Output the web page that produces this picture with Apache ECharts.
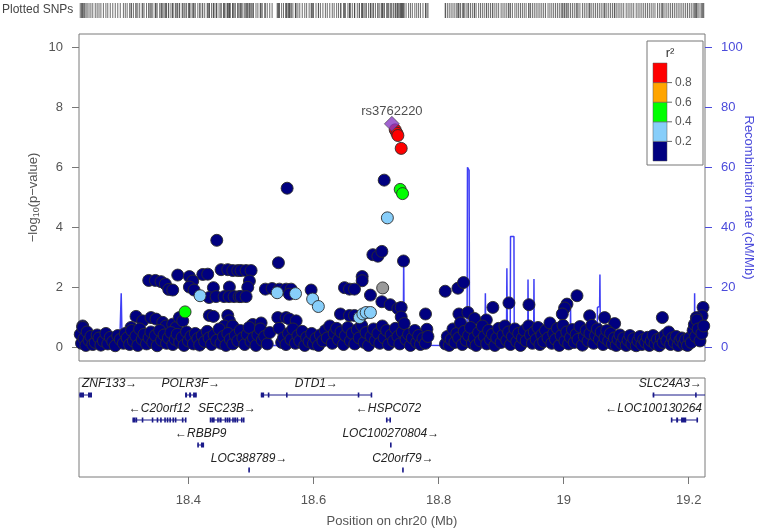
<!DOCTYPE html>
<html>
<head>
<meta charset="utf-8">
<script src="https://cdn.jsdelivr.net/npm/echarts@6/dist/echarts.min.js"></script>
<style>
  html, body { margin: 0; padding: 0; background: #fff; }
  #chart { width: 762px; height: 531px; }
</style>
</head>
<body>
<div id="chart"></div>
<script>
// ---- data (Mb, -log10 p) ----
const leadSnp = [[18.7253, 7.45]];
const leadName = 'rs3762220';

const ldRed = [[18.7306, 7.25], [18.7333, 7.14], [18.7349, 7.06], [18.7402, 6.63]];
const ldGreen = [[18.7386, 5.26], [18.7424, 5.12], [18.3946, 1.17]];
const ldLightBlue = [
  [18.7181, 4.31], [18.4186, 1.71], [18.5419, 1.81], [18.5712, 1.78], [18.5986, 1.60],
  [18.6077, 1.35], [18.6735, 0.98], [18.6789, 1.10], [18.6842, 1.15], [18.6910, 1.15]
];
const ldGrey = [[18.7106, 1.97]];

const ldNavy = [
  [18.4453, 3.56], [18.5578, 5.30], [18.7130, 5.57], [18.5439, 2.81], [18.6949, 3.08], [18.7029, 3.03],
  [18.7093, 3.19], [18.7439, 2.87], [18.6778, 2.35], [18.6778, 2.21],
  [18.3365, 2.22], [18.3471, 2.22], [18.3562, 2.18], [18.3631, 2.10], [18.3685, 1.92], [18.3749, 1.90],
  [18.3829, 2.40], [18.4015, 2.35], [18.4069, 2.20], [18.4229, 2.42], [18.4309, 2.43], [18.4015, 2.00], [18.4090, 1.90],
  [18.4522, 2.58], [18.4629, 2.58], [18.4709, 2.55], [18.4789, 2.55], [18.4399, 1.98], [18.4655, 2.00],
  [18.4330, 1.65], [18.4442, 1.68], [18.4570, 1.68], [18.4650, 1.68], [18.4730, 1.68], [18.4810, 1.68],
  [18.4842, 2.55], [18.4922, 2.55], [18.5002, 2.55], [18.4975, 2.20], [18.4949, 1.99], [18.4842, 1.68], [18.4922, 1.68],
  [18.5230, 1.93], [18.5338, 1.95], [18.5455, 1.93], [18.5562, 1.93], [18.5642, 1.93], [18.5615, 1.76],
  [18.5962, 1.90], [18.6495, 1.98], [18.6575, 1.93], [18.6655, 1.93], [18.6910, 1.73],
  [18.7093, 1.51], [18.7226, 1.41], [18.7349, 1.28],
  [18.6431, 1.10], [18.6575, 1.05], [18.6655, 1.05],
  [18.5429, 0.98], [18.5562, 0.98], [18.5615, 0.93], [18.5722, 0.87],
  [18.8106, 1.86], [18.8309, 1.96], [18.8399, 2.15], [18.8868, 1.32], [18.9125, 1.47], [18.9445, 1.41],
  [18.7791, 1.10], [18.7813, 0.59], [18.7402, 1.32], [18.7402, 1.00],
  [18.8325, 1.10], [18.8469, 1.15], [18.8575, 0.95], [18.8763, 0.90],
  [19.0213, 1.71], [19.0053, 1.43], [19.0015, 1.30], [18.9978, 1.10], [19.1578, 0.98], [19.2229, 1.32],
  [19.2213, 1.04], [19.2122, 0.98], [19.0415, 1.04], [19.0655, 0.98], [19.0815, 0.78],
  [18.3162, 1.02], [18.3082, 0.65], [18.3269, 0.87], [18.3402, 0.98], [18.3482, 0.93], [18.3589, 0.82],
  [18.3642, 0.70], [18.3749, 0.76], [18.3802, 0.65], [18.3855, 0.98], [18.3909, 0.87], [18.4335, 1.05],
  [18.4399, 1.02], [18.4629, 1.05], [18.4655, 0.87], [18.4574, 0.70], [18.4709, 0.70], [18.2309, 0.70],
  [18.2334, 0.54], [18.5028, 0.75], [18.5162, 0.80], [18.5150, 0.55],
  // dense band near zero
  [18.227, 0.42], [18.229, 0.12], [18.231, 0.65], [18.233, 0.28], [18.236, 0.05], [18.238, 0.50], [18.241, 0.22],
  [18.244, 0.35], [18.247, 0.08], [18.251, 0.15], [18.254, 0.40], [18.257, 0.30], [18.260, 0.06], [18.264, 0.20],
  [18.268, 0.45], [18.271, 0.10], [18.275, 0.32], [18.279, 0.18], [18.283, 0.04], [18.287, 0.38], [18.291, 0.25],
  [18.296, 0.12], [18.299, 0.45],
  [18.302, 0.30], [18.306, 0.08], [18.309, 0.55], [18.312, 0.20], [18.316, 0.36], [18.319, 0.05], [18.322, 0.60],
  [18.326, 0.25], [18.329, 0.42], [18.333, 0.10], [18.337, 0.30], [18.340, 0.50], [18.343, 0.15], [18.347, 0.38],
  [18.350, 0.04], [18.354, 0.55], [18.357, 0.22], [18.361, 0.40], [18.365, 0.12], [18.368, 0.30], [18.372, 0.48],
  [18.375, 0.08], [18.379, 0.25], [18.382, 0.42], [18.386, 0.16], [18.390, 0.32], [18.393, 0.05], [18.397, 0.50],
  [18.400, 0.20], [18.404, 0.35], [18.408, 0.10], [18.411, 0.45], [18.415, 0.28], [18.418, 0.06], [18.422, 0.38],
  [18.426, 0.18], [18.430, 0.52], [18.433, 0.30], [18.437, 0.08], [18.441, 0.40], [18.445, 0.22], [18.449, 0.60],
  [18.452, 0.12], [18.456, 0.35], [18.460, 0.05], [18.463, 0.45], [18.467, 0.25], [18.471, 0.10], [18.475, 0.38],
  [18.479, 0.20], [18.483, 0.55], [18.487, 0.30], [18.490, 0.08], [18.494, 0.42], [18.497, 0.65], [18.500, 0.18],
  [18.504, 0.30], [18.508, 0.05], [18.511, 0.40], [18.515, 0.60], [18.518, 0.22], [18.522, 0.35], [18.526, 0.10],
  [18.530, 0.48], [18.545, 0.62], [18.549, 0.15],
  [18.552, 0.30], [18.556, 0.08], [18.560, 0.45], [18.564, 0.25], [18.567, 0.60], [18.571, 0.12], [18.575, 0.38],
  [18.578, 0.20], [18.582, 0.52], [18.586, 0.05], [18.589, 0.32], [18.593, 0.18], [18.597, 0.45], [18.600, 0.10],
  [18.604, 0.28], [18.608, 0.05], [18.611, 0.40], [18.615, 0.20], [18.619, 0.55], [18.622, 0.30], [18.626, 0.70],
  [18.630, 0.12], [18.633, 0.45], [18.637, 0.62], [18.640, 0.25], [18.644, 0.50], [18.648, 0.08], [18.651, 0.38],
  [18.655, 0.65], [18.659, 0.20], [18.662, 0.45], [18.666, 0.10], [18.670, 0.58], [18.673, 0.30], [18.677, 0.72],
  [18.681, 0.15], [18.684, 0.48], [18.688, 0.05], [18.692, 0.35], [18.696, 0.60], [18.699, 0.22],
  [18.703, 0.45], [18.706, 0.12], [18.710, 0.70], [18.713, 0.30], [18.717, 0.55], [18.720, 0.08], [18.724, 0.40],
  [18.728, 0.20], [18.731, 0.62], [18.735, 0.35], [18.738, 0.10], [18.742, 0.50], [18.745, 0.78], [18.748, 0.25],
  [18.752, 0.42], [18.755, 0.05], [18.758, 0.30], [18.762, 0.55], [18.765, 0.15], [18.768, 0.38], [18.771, 0.08],
  [18.775, 0.28], [18.779, 0.12], [18.783, 0.35],
  [18.811, 0.10], [18.814, 0.35], [18.817, 0.05], [18.820, 0.25], [18.823, 0.60], [18.826, 0.15], [18.829, 0.45],
  [18.832, 0.30], [18.835, 0.80], [18.838, 0.08], [18.841, 0.52], [18.844, 0.22], [18.848, 0.38], [18.851, 0.65],
  [18.854, 0.12], [18.857, 0.30], [18.860, 0.05], [18.864, 0.48], [18.867, 0.20], [18.870, 0.70], [18.873, 0.35],
  [18.877, 0.10], [18.880, 0.55], [18.883, 0.25], [18.886, 0.42], [18.890, 0.05], [18.893, 0.30], [18.896, 0.62],
  [18.900, 0.15], [18.903, 0.40], [18.906, 0.70], [18.909, 0.22], [18.912, 0.50], [18.915, 0.08], [18.918, 0.35],
  [18.922, 0.60], [18.925, 0.18], [18.928, 0.45], [18.931, 0.05], [18.934, 0.30], [18.937, 0.55], [18.940, 0.20],
  [18.944, 0.70], [18.947, 0.40], [18.950, 0.12],
  [18.953, 0.50], [18.956, 0.25], [18.959, 0.65], [18.962, 0.08], [18.965, 0.40], [18.968, 0.18], [18.971, 0.55],
  [18.975, 0.30], [18.978, 0.80], [18.981, 0.12], [18.984, 0.45], [18.987, 0.25], [18.990, 0.62], [18.993, 0.05],
  [18.996, 0.38], [18.999, 0.72], [19.002, 0.20], [19.005, 0.50], [19.008, 0.10], [19.011, 0.32], [19.014, 0.58],
  [19.017, 0.15], [19.020, 0.42], [19.023, 0.25], [19.026, 0.68], [19.030, 0.06], [19.033, 0.35], [19.036, 0.55],
  [19.039, 0.20], [19.042, 0.45], [19.045, 0.72], [19.048, 0.12], [19.051, 0.38], [19.054, 0.60], [19.057, 0.25],
  [19.060, 0.50], [19.063, 0.08], [19.066, 0.30], [19.069, 0.55],
  [19.072, 0.20], [19.075, 0.45], [19.078, 0.10], [19.081, 0.30], [19.084, 0.05], [19.087, 0.25], [19.090, 0.40],
  [19.093, 0.12], [19.096, 0.30], [19.100, 0.05], [19.103, 0.22], [19.106, 0.38], [19.109, 0.10], [19.112, 0.28],
  [19.116, 0.04], [19.119, 0.20], [19.122, 0.35], [19.125, 0.08], [19.128, 0.25], [19.131, 0.15], [19.134, 0.32],
  [19.137, 0.05], [19.140, 0.20], [19.143, 0.38], [19.146, 0.10], [19.150, 0.25], [19.153, 0.04], [19.156, 0.30],
  [19.159, 0.15], [19.162, 0.40], [19.165, 0.22], [19.168, 0.50], [19.171, 0.08], [19.174, 0.30], [19.177, 0.15],
  [19.180, 0.35], [19.183, 0.05], [19.186, 0.22], [19.189, 0.30], [19.192, 0.10], [19.195, 0.25], [19.198, 0.05],
  [19.201, 0.30], [19.204, 0.15], [19.207, 0.55], [19.209, 0.75], [19.211, 0.35], [19.213, 0.90], [19.215, 0.60],
  [19.218, 0.20], [19.221, 0.45], [19.224, 0.70]
];

// recombination rate (cM/Mb)
const recombPos = [
  18.225, 18.290, 18.2925, 18.294, 18.450, 18.600, 18.7435, 18.7442, 18.745,
  18.8455, 18.8462, 18.8488, 18.8495, 18.874, 18.8748, 18.8756, 18.9085, 18.9092, 18.9100,
  18.9145, 18.9150, 18.9205, 18.9210, 18.9425, 18.9430, 18.9436, 18.9520, 18.9525, 18.9531,
  19.0105, 19.0110, 19.0116, 19.0535, 19.0540, 19.0575, 19.0580, 19.0587,
  19.1690, 19.1694, 19.1699, 19.2090, 19.2094, 19.2099, 19.226
];
const recombRate = [
  0.3, 0.5, 17.9, 0.5, 0.4, 0.6, 0.5, 30.5, 0.6,
  0.5, 60.0, 59.0, 0.8, 0.6, 17.9, 0.6, 0.8, 26.3, 0.9,
  0.9, 36.9, 36.9, 0.9, 0.8, 22.5, 0.8, 0.8, 22.7, 0.8,
  0.8, 13.2, 0.8, 1.0, 13.2, 13.5, 24.2, 1.0,
  0.6, 6.5, 0.6, 0.8, 17.9, 0.8, 0.5
];

// genes
const geneNames  = ['ZNF133', 'POLR3F', 'DTD1', 'SLC24A3', 'C20orf12', 'SEC23B', 'HSPC072', 'LOC100130264',
                    'RBBP9', 'LOC100270804', 'LOC388789', 'C20orf79'];
const geneStart  = [18.215, 18.3946, 18.5157, 19.1423, 18.3109, 18.4346, 18.7162, 19.1717, 18.4143, 18.7230, 18.4964, 18.7424];
const geneEnd    = [18.2458, 18.4133, 18.6933, 19.400, 18.3962, 18.4890, 18.7237, 19.2149, 18.4250, 18.7242, 18.4976, 18.7436];
const geneRow    = [1, 1, 1, 1, 2, 2, 2, 2, 3, 3, 4, 4];
const geneStrand = [1, 1, 1, 1, -1, 1, -1, -1, -1, 1, 1, 1];
const geneExons  = [
  [[18.2256, 18.2330], [18.2394, 18.2458]],
  [[18.3946, 18.3978], [18.4010, 18.4042], [18.4074, 18.4133]],
  [[18.5157, 18.5210], [18.5274, 18.5290], [18.5566, 18.5580], [18.6713, 18.6727], [18.6920, 18.6933]],
  [[19.1423, 19.1450], [19.2107, 19.2122]],
  [[18.3109, 18.3125], [18.3135, 18.3148], [18.3160, 18.3175], [18.3260, 18.3272], [18.3420, 18.3432],
   [18.3500, 18.3510], [18.3555, 18.3565], [18.3620, 18.3632], [18.3660, 18.3672], [18.3700, 18.3715],
   [18.3750, 18.3765], [18.3790, 18.3800], [18.3900, 18.3915], [18.3950, 18.3962]],
  [[18.4346, 18.4360], [18.4372, 18.4390], [18.4400, 18.4412], [18.4460, 18.4485], [18.4495, 18.4530],
   [18.4580, 18.4605], [18.4612, 18.4640], [18.4650, 18.4668], [18.4700, 18.4725], [18.4732, 18.4760],
   [18.4770, 18.4795], [18.4845, 18.4860], [18.4878, 18.4890]],
  [[18.7162, 18.7180], [18.7215, 18.7237]],
  [[19.1717, 19.1736], [19.1799, 19.1830], [19.1877, 19.1960], [19.2123, 19.2149]],
  [[18.4143, 18.4165], [18.4200, 18.4250]],
  [[18.7230, 18.7242]],
  [[18.4964, 18.4976]],
  [[18.7424, 18.7436]]
];

// axes
const xMin = 18.225, xMax = 19.226;
const posTicks = [18.4, 18.6, 18.8, 19, 19.2];
const logpTicks = [0, 2, 4, 6, 8, 10];
const recombTicks = [0, 20, 40, 60, 80, 100];

// r^2 legend
const ldColors = ['#000080', '#87CEFA', '#00FF00', '#FFA500', '#FF0000'];
const ldBreaks = ['0.2', '0.4', '0.6', '0.8'];

const greyText = '#555';
const blueText = '#4b4bdb';
const geneColor = '#1a1a8a';
const geneFont = 'italic 12px "Liberation Sans", Arial, sans-serif';

const allPos = [].concat(ldNavy, ldLightBlue, ldGreen, ldRed, ldGrey, leadSnp).map(d => [d[0], 0]);

const measure = document.createElement('canvas').getContext('2d');
measure.font = geneFont;

function renderGene(params, api) {
  const i = params.dataIndex;
  const cs = params.coordSys;
  const row = geneRow[i];
  const y = api.coord([geneStart[i], row])[1];
  const x0 = api.coord([geneStart[i], row])[0];
  const x1 = api.coord([geneEnd[i], row])[0];
  const left = cs.x, right = cs.x + cs.width;
  const children = [{
    type: 'line',
    shape: { x1: Math.max(x0, left), y1: y, x2: Math.min(x1, right), y2: y },
    style: { stroke: geneColor, lineWidth: 1 }
  }];
  geneExons[i].forEach(e => {
    let a = Math.max(api.coord([e[0], row])[0], left);
    let b = Math.min(api.coord([e[1], row])[0], right);
    if (b - a < 1.6) { const m = (a + b) / 2; a = m - 0.8; b = m + 0.8; }
    children.push({ type: 'rect', shape: { x: a, y: y - 2.5, width: b - a, height: 5 }, style: { fill: geneColor } });
  });
  const text = geneStrand[i] > 0 ? geneNames[i] + '\u2192' : '\u2190' + geneNames[i];
  const w = measure.measureText(text).width;
  let cx = (Math.max(x0, left) + Math.min(x1, right)) / 2;
  cx = Math.max(left + 3 + w / 2, Math.min(right - 3 - w / 2, cx));
  children.push({
    type: 'text',
    style: { text: text, x: cx, y: y - 5, font: geneFont, fill: '#222', align: 'center', verticalAlign: 'bottom' }
  });
  return { type: 'group', children: children };
}

function ldSeries(data, color) {
  return {
    type: 'scatter', xAxisIndex: 1, yAxisIndex: 1, data: data, symbolSize: 12,
    itemStyle: { color: color, borderColor: '#2b2b2b', borderWidth: 0.9, opacity: 1 },
    emphasis: { disabled: true }, silent: true, z: 3
  };
}

// same position scale for all three panels; only the bottom one shows ticks
function posAxis(grid, visible) {
  return {
    gridIndex: grid, type: 'value', min: xMin, max: xMax,
    axisLine: { show: false },
    axisTick: { show: visible, length: 7, customValues: posTicks, lineStyle: { color: '#777' } },
    axisLabel: { show: visible, customValues: posTicks, margin: 17, color: greyText, fontSize: 13 },
    splitLine: { show: false }
  };
}

// legend drawn as graphic
const legendTop = 63, legendStep = 19.6;
const legendGraphic = [
  { type: 'rect', shape: { x: 647, y: 41, width: 56, height: 124 }, style: { fill: '#fff', stroke: '#777', lineWidth: 1 }, z: 10 },
  { type: 'text', style: { text: 'r\u00b2', x: 670, y: 53, font: '13px "Liberation Sans", Arial, sans-serif', fill: '#333', align: 'center', verticalAlign: 'middle' }, z: 11 }
];
ldColors.forEach((c, k) => {
  legendGraphic.push({
    type: 'rect', z: 11,
    shape: { x: 653, y: legendTop + (ldColors.length - 1 - k) * legendStep, width: 14, height: legendStep },
    style: { fill: c, stroke: '#555', lineWidth: 0.5 }
  });
});
ldBreaks.forEach((t, k) => {
  const yy = legendTop + (ldColors.length - 1 - k) * legendStep;
  legendGraphic.push({ type: 'line', z: 11, shape: { x1: 667, y1: yy, x2: 672, y2: yy }, style: { stroke: '#666', lineWidth: 1 } });
  legendGraphic.push({ type: 'text', z: 11, style: { text: t, x: 675, y: yy, font: '12px "Liberation Sans", Arial, sans-serif', fill: greyText, align: 'left', verticalAlign: 'middle' } });
});

const chart = echarts.init(document.getElementById('chart'), null, { renderer: 'canvas' });

const bottomAxis = posAxis(2, true);
bottomAxis.name = 'Position on chr20 (Mb)';
bottomAxis.nameLocation = 'middle';
bottomAxis.nameGap = 38;
bottomAxis.nameTextStyle = { color: greyText, fontSize: 13 };

// fixed grid boxes (no automatic shrinking for labels)
const gridBase = { left: 79, right: 57, containLabel: false, outerBoundsMode: 'none' };

const option = {
  animation: false,
  textStyle: { fontFamily: '"Liberation Sans", Arial, sans-serif' },
  graphic: [
    { type: 'text', style: { text: 'Plotted SNPs', x: 2, y: 10, font: '12px "Liberation Sans", Arial, sans-serif', fill: '#444', align: 'left', verticalAlign: 'middle' } }
  ].concat(legendGraphic),
  grid: [
    Object.assign({}, gridBase, { top: 3, height: 15 }),
    Object.assign({}, gridBase, { top: 34, height: 327, show: true, borderColor: '#7a7a7a', borderWidth: 1 }),
    Object.assign({}, gridBase, { top: 378, height: 99, show: true, borderColor: '#7a7a7a', borderWidth: 1 })
  ],
  xAxis: [posAxis(0, false), posAxis(1, false), bottomAxis],
  yAxis: [
    { gridIndex: 0, type: 'value', min: -1, max: 1, show: false },
    {
      gridIndex: 1, type: 'value', position: 'left', min: -0.47, max: 10.45,
      axisLine: { show: false },
      axisTick: { show: true, length: 7, customValues: logpTicks, lineStyle: { color: '#777' } },
      axisLabel: { customValues: logpTicks, margin: 16, color: greyText, fontSize: 13 },
      splitLine: { show: false },
      name: '\u2212log{sub|10}(p\u2212value)', nameLocation: 'middle', nameGap: 38, nameRotate: 90,
      nameMoveOverlap: false,
      nameTextStyle: {
        color: greyText, fontSize: 13, lineHeight: 16,
        rich: { sub: { fontSize: 9, verticalAlign: 'bottom', lineHeight: 16, color: greyText } }
      }
    },
    {
      gridIndex: 1, type: 'value', position: 'right', min: -4.7, max: 104.5,
      axisLine: { show: false },
      axisTick: { show: true, length: 7, customValues: recombTicks, lineStyle: { color: blueText } },
      axisLabel: { customValues: recombTicks, margin: 16, color: blueText, fontSize: 13 },
      splitLine: { show: false },
      name: 'Recombination rate (cM/Mb)', nameLocation: 'middle', nameGap: 37, nameRotate: -90,
      nameMoveOverlap: false,
      nameTextStyle: { color: blueText, fontSize: 13 }
    },
    { gridIndex: 2, type: 'value', min: 0.32, max: 4.28, inverse: true, show: false }
  ],
  series: [
    {
      type: 'scatter', xAxisIndex: 0, yAxisIndex: 0, data: allPos,
      symbol: 'rect', symbolSize: [1, 15], itemStyle: { color: '#4a4a4a' }, silent: true
    },
    {
      type: 'line', xAxisIndex: 1, yAxisIndex: 2, z: 1,
      data: recombPos.map((p, i) => [p, recombRate[i]]),
      showSymbol: false, lineStyle: { color: '#3f3ff5', width: 1.5 }, silent: true
    },
    ldSeries(ldNavy, ldColors[0]),
    ldSeries(ldGrey, '#9a9a9a'),
    ldSeries(ldLightBlue, ldColors[1]),
    ldSeries(ldGreen, ldColors[2]),
    ldSeries(ldRed, ldColors[4]),
    {
      type: 'scatter', xAxisIndex: 1, yAxisIndex: 1, data: leadSnp, symbol: 'diamond', symbolSize: 15, z: 4,
      itemStyle: { color: '#8a3cc4', borderColor: '#444', borderWidth: 0.8 },
      label: { show: true, position: 'top', distance: -2, formatter: leadName, color: '#222', fontSize: 13 },
      emphasis: { disabled: true }, silent: true
    },
    {
      type: 'custom', xAxisIndex: 2, yAxisIndex: 3,
      data: geneNames.map((n, i) => [geneStart[i], geneEnd[i], geneRow[i]]),
      encode: { x: [0, 1], y: 2 },
      renderItem: renderGene, silent: true
    }
  ]
};

chart.setOption(option);
</script>
</body>
</html>
